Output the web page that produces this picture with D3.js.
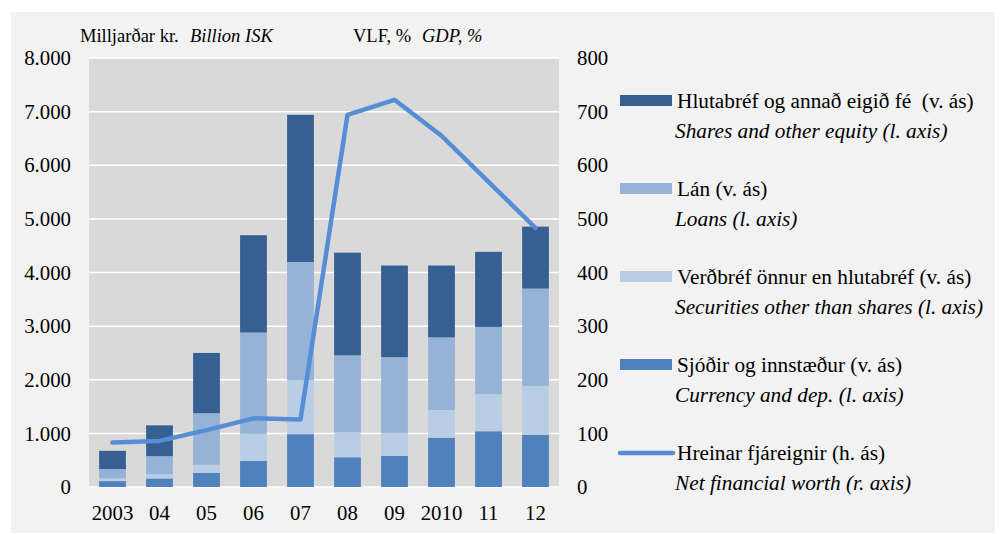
<!DOCTYPE html>
<html><head><meta charset="utf-8">
<script src="https://cdn.jsdelivr.net/npm/d3@7"></script>
<style>body{margin:0;background:#fff}svg{display:block}</style>
</head><body><svg id="c" width="1000" height="534"></svg>
<script>
const categories = ["2003","04","05","06","07","08","09","2010","11","12"];
const currency   = [110, 160, 265, 485, 985, 555, 580, 920, 1040, 975];
const securities = [50, 80, 150, 505, 1010, 470, 430, 515, 690, 910];
const loans      = [175, 335, 960, 1890, 2200, 1430, 1410, 1355, 1255, 1815];
const shares     = [340, 575, 1125, 1815, 2745, 1915, 1710, 1340, 1400, 1155];
const netWorth   = [83, 86, 106, 128, 126, 694, 722, 655, 569, 483];
const leftTicks  = [0,1000,2000,3000,4000,5000,6000,7000,8000];
const rightTicks = [0,100,200,300,400,500,600,700,800];

const seriesKeys = ["currency","securities","loans","shares"];
const colors = {currency:"#4f81bd", securities:"#b9cde5", loans:"#95b3d7", shares:"#366092"};
const legendItems = [
  {key:"shares", is:"Hlutabréf og annað eigið fé  (v. ás)", en:"Shares and other equity (l. axis)"},
  {key:"loans", is:"Lán (v. ás)", en:"Loans (l. axis)"},
  {key:"securities", is:"Verðbréf önnur en hlutabréf (v. ás)", en:"Securities other than shares (l. axis)"},
  {key:"currency", is:"Sjóðir og innstæður (v. ás)", en:"Currency and dep. (l. axis)"},
  {key:"line", is:"Hreinar fjáreignir (h. ás)", en:"Net financial worth (r. axis)"}
];

const table = categories.map((c,i)=>({cat:c, currency:currency[i], securities:securities[i], loans:loans[i], shares:shares[i], nw:netWorth[i]}));

const FONT = "'Liberation Serif', serif";
const fsTick = 20.8, fsLeg = 21.3, fsHead = 18.5;
const svg = d3.select("#c");
const L=89, R=559, T=58, B=487;
svg.append("rect").attr("x",11).attr("y",12).attr("width",984).attr("height",521).attr("fill","#f2f2f2");
svg.append("rect").attr("x",L).attr("y",T).attr("width",R-L).attr("height",B-T).attr("fill","#d9d9d9");

const x = d3.scaleBand().domain(categories).range([L,R]).paddingInner(0.43).paddingOuter(0.215);
const y = d3.scaleLinear().domain([0,8000]).range([B,T]);
const y2 = d3.scaleLinear().domain([0,800]).range([B,T]);

svg.append("g").selectAll("line").data(leftTicks).join("line")
  .attr("x1",L).attr("x2",R).attr("y1",d=>y(d)).attr("y2",d=>y(d))
  .attr("stroke","#fff").attr("stroke-width",1.5);

const fmt = d => d===0 ? "0" : d3.format(",")(d).replace(/,/g,".");
function styleAxis(g){
  g.select(".domain").remove();
  g.selectAll("text").style("font-family",FONT).style("font-size",fsTick+"px").attr("fill","#000");
}
svg.append("g").attr("transform",`translate(${L},0)`)
  .call(d3.axisLeft(y).tickValues(leftTicks).tickFormat(fmt).tickSize(0).tickPadding(18)).call(styleAxis);
svg.append("g").attr("transform",`translate(${R},0)`)
  .call(d3.axisRight(y2).tickValues(rightTicks).tickSize(0).tickPadding(18)).call(styleAxis);
svg.append("g").attr("transform",`translate(0,${B})`)
  .call(d3.axisBottom(x).tickSize(0).tickPadding(18)).call(styleAxis);

const stack = d3.stack().keys(seriesKeys)(table);
svg.append("g").selectAll("g").data(stack).join("g").attr("fill",d=>colors[d.key])
  .selectAll("rect").data(d=>d).join("rect")
  .attr("x",d=>x(d.data.cat)).attr("width",x.bandwidth())
  .attr("y",d=>y(d[1])).attr("height",d=>y(d[0])-y(d[1]));

const line = d3.line().x(d=>x(d.cat)+x.bandwidth()/2).y(d=>y2(d.nw));
svg.append("path").datum(table).attr("d",line).attr("fill","none")
  .attr("stroke","#558ed5").attr("stroke-width",4.5).attr("stroke-linejoin","round").attr("stroke-linecap","round");

function txt(xp,yp,s,fs,italic){
  return svg.append("text").attr("x",xp).attr("y",yp).style("font-family",FONT).style("font-size",fs+"px")
    .style("white-space","pre").attr("fill","#000").attr("font-style",italic?"italic":null).text(s);
}
txt(80,42,"Milljarðar kr.",fsHead);
txt(190,42,"Billion ISK",fsHead,true);
txt(353,42,"VLF, %",fsHead);
txt(422,42,"GDP, %",fsHead,true);

legendItems.forEach((it,i)=>{
  const by = 108 + i*88;
  if(it.key==="line"){
    svg.append("line").attr("x1",620).attr("x2",673).attr("y1",by-7).attr("y2",by-7)
      .attr("stroke","#558ed5").attr("stroke-width",4.5).attr("stroke-linecap","round");
  } else {
    svg.append("rect").attr("x",620).attr("y",by-13).attr("width",52).attr("height",11).attr("fill",colors[it.key]);
  }
  txt(677,by,it.is,fsLeg);
  txt(675,by+30,it.en,fsLeg,true);
});
</script></body></html>
